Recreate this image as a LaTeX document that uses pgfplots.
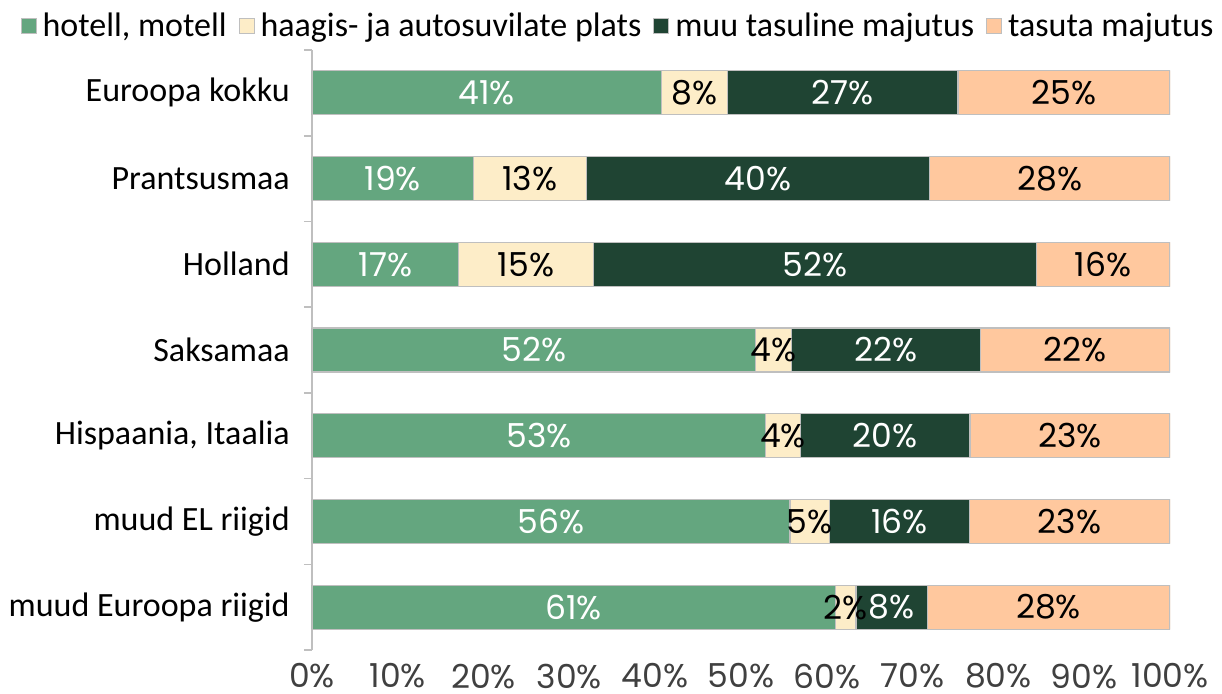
\documentclass[border=0pt]{standalone}
\usepackage{pgfplots}
\pgfplotsset{compat=1.18}
\usepackage{fontspec}
\setmainfont{Carlito}
\newfontfamily\labfont{Poppins}
\usetikzlibrary{calc}
\definecolor{cHot}{HTML}{64A67F}
\definecolor{cHaa}{HTML}{FDEDC8}
\definecolor{cMuu}{HTML}{1F4433}
\definecolor{cTas}{HTML}{FFC89E}
\definecolor{cGrid}{HTML}{BFBFBF}
\definecolor{cTick}{HTML}{404040}

% segment widths (percent), rows 0..6 top to bottom
\pgfplotstableread{
y  hot  haa  muu  tas
0  40.7 7.7  26.9 24.7
1  18.8 13.2 40.0 28.0
2  17.1 15.7 51.6 15.6
3  51.7 4.2  22.0 22.1
4  52.9 4.0  19.8 23.3
5  55.7 4.6  16.3 23.4
6  61.0 2.4  8.3  28.3
}\datatab
% label centres and texts
\pgfplotstableread{
y c1 l1 c2 l2 c3 l3 c4 l4
0 20.35 41\% 44.55 8\%  61.85 27\% 87.65 25\%
1 9.4   19\% 25.4  13\% 52.0  40\% 86.0  28\%
2 8.55  17\% 24.95 15\% 58.6  52\% 92.2  16\%
3 25.85 52\% 53.8  4\%  66.9  22\% 88.95 22\%
4 26.45 53\% 54.9  4\%  66.8  20\% 88.35 23\%
5 27.85 56\% 58.0  5\%  68.45 16\% 88.3  23\%
6 30.5  61\% 62.2  2\%  67.55 8\%  85.85 28\%
}\labtab

\pgfplotsset{
  base/.style={
    scale only axis, width=429pt, height=300pt,
    xmin=0, xmax=100, ymin=-0.5, ymax=6.5, y dir=reverse,
  }
}
\newcommand\bigfont{\fontsize{17pt}{20pt}\selectfont}
\begin{document}
\bigfont
\begin{tikzpicture}
\begin{axis}[base, name=ax,
  xbar stacked, bar width=22pt,
  axis x line=none,
  axis y line*=left,
  axis line style={cGrid, line width=0.8pt},
  xtick={0,10,...,100},
  xmajorgrids, grid style={cGrid, line width=0.8pt},
  ytick={0,...,6},
  yticklabels={Euroopa kokku,Prantsusmaa,Holland,Saksamaa,{Hispaania, Itaalia},muud EL riigid,muud Euroopa riigid},
  yticklabel style={font=\bigfont, text=black, xshift=-1pt},
  major y tick style={draw=none},
  minor ytick={-0.5,0.5,...,6.5},
  minor y tick style={cGrid, line width=0.8pt},
  minor tick length=4pt,
  ytick align=outside,
  legend style={at={(0.358,1)}, anchor=south, yshift=0pt, draw=none, fill=none,
    legend columns=4, font=\bigfont, inner xsep=0pt,
    /tikz/every even column/.append style={column sep=4pt},
    /tikz/every odd column/.append style={column sep=1pt}},
  legend cell align=left,
]
\addplot[fill=cHot, draw=cGrid, line width=0.6pt,
  legend image code/.code={\filldraw[fill=cHot,draw=cGrid,line width=0.4pt] (0pt,-3pt) rectangle (7.5pt,4.5pt);}] table[x=hot, y=y] {\datatab};
\addplot[fill=cHaa, draw=cGrid, line width=0.6pt,
  legend image code/.code={\filldraw[fill=cHaa,draw=cGrid,line width=0.4pt] (0pt,-3pt) rectangle (7.5pt,4.5pt);}] table[x=haa, y=y] {\datatab};
\addplot[fill=cMuu, draw=cGrid, line width=0.6pt,
  legend image code/.code={\filldraw[fill=cMuu,draw=cGrid,line width=0.4pt] (0pt,-3pt) rectangle (7.5pt,4.5pt);}] table[x=muu, y=y] {\datatab};
\addplot[fill=cTas, draw=cGrid, line width=0.6pt,
  legend image code/.code={\filldraw[fill=cTas,draw=cGrid,line width=0.4pt] (0pt,-3pt) rectangle (7.5pt,4.5pt);}] table[x=tas, y=y] {\datatab};
\legend{{hotell, motell}, haagis- ja autosuvilate plats, muu tasuline majutus, tasuta majutus}
\end{axis}
\begin{axis}[base,
  axis x line*=bottom, axis y line=none,
  axis line style={draw=none},
  xtick={0,10,...,100},
  xticklabel={\pgfmathprintnumber{\tick}\%},
  xticklabel style={text=cTick, font=\labfont\fontsize{16.5pt}{18pt}\selectfont, yshift=-1pt},
  /pgf/number format/assume math mode=true,
  major x tick style={draw=none},
  nodes near coords, point meta=explicit symbolic,
  nodes near coords align=center,
  every node near coord/.append style={font=\labfont\fontsize{16.5pt}{18pt}\selectfont, anchor=center},
]
\addplot[only marks, mark=none, nodes near coords style={text=white}] table[x=c1, y=y, meta=l1] {\labtab};
\addplot[only marks, mark=none, nodes near coords style={text=black}] table[x=c2, y=y, meta=l2] {\labtab};
\addplot[only marks, mark=none, nodes near coords style={text=white}] table[x=c3, y=y, meta=l3] {\labtab};
\addplot[only marks, mark=none, nodes near coords style={text=black}] table[x=c4, y=y, meta=l4] {\labtab};
\end{axis}
\pgfresetboundingbox
\path ($(ax.south west)+(-156pt,-21.5pt)$) rectangle ($(ax.south west)+(455pt,325pt)$);
\end{tikzpicture}
\end{document}
